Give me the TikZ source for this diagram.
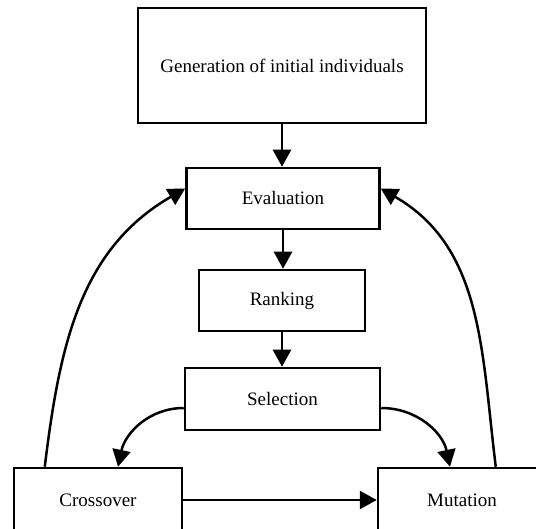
\documentclass[tikz,border=0pt]{standalone}
\usepackage{fontspec}
\setmainfont{Liberation Serif}
\usetikzlibrary{arrows.meta}

\begin{document}
\begin{tikzpicture}[x=1pt, y=-1pt,
  box/.style={draw, line width=2.5pt, inner sep=0pt, font=\fontsize{19}{23}\selectfont},
  flow/.style={line width=2.5pt, -{Triangle[width=18pt,length=17pt]}}]

\useasboundingbox (0,0) rectangle (536,529);

\node [box, minimum width=288, minimum height=115] (gen) at (282,65.5) {Generation of initial individuals};
\node [box, minimum width=193, minimum height=61] (eval) at (283,198.5) {Evaluation};
\node [box, minimum width=166, minimum height=61] (rank) at (282,300.5) {Ranking};
\node [box, minimum width=195, minimum height=62] (sel) at (282.5,399) {Selection};
\node [box, minimum width=168, minimum height=64] (cross) at (98,500) {Crossover};
\node [box, minimum width=168, minimum height=64] (mut) at (462,500) {Mutation};

\draw [flow] (gen.south) -- (gen.south |- eval.north);
\draw [flow] (eval.south) -- (eval.south |- rank.north);
\draw [flow] (rank.south) -- (rank.south |- sel.north);

\draw [flow] ([yshift=-9pt]sel.west) to[out=180, in=78] ([xshift=20pt]cross.north);
\draw [flow] ([yshift=-9pt]sel.east) to[out=0, in=102] ([xshift=-12pt]mut.north);
\draw [flow] (cross.east) -- (mut.west);

\draw [flow] ([xshift=32pt]cross.north west) to[out=83, in=210] ([yshift=10pt]eval.west);
\draw [flow] ([xshift=119pt]mut.north west) to[out=97, in=-30] ([yshift=10pt]eval.east);

\end{tikzpicture}
\end{document}
